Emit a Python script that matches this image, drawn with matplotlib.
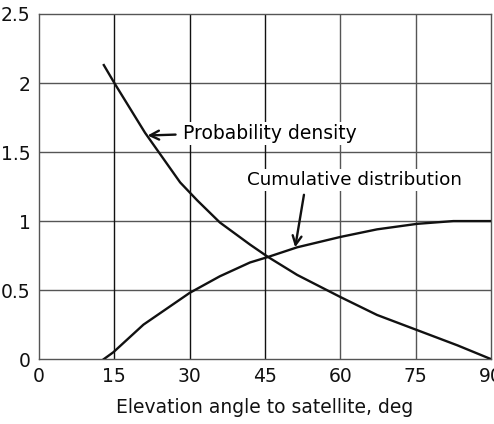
import matplotlib.pyplot as plt
import numpy as np

# elevation angle (deg) and curve values
pdf_deg = [12.9, 15, 21.1, 28.1, 31.5, 36, 42, 45.6, 51.4, 60, 67.3, 75.3, 83.3, 90]
pdf_val = [2.13, 2.0, 1.64, 1.28, 1.15, 0.99, 0.83, 0.74, 0.61, 0.45, 0.32, 0.21, 0.10, 0.0]

cdf_deg = [12.9, 14.8, 20.8, 30, 36, 42, 45.6, 51.4, 60, 67.3, 75.3, 82.5, 90]
cdf_val = [0.0, 0.05, 0.25, 0.48, 0.60, 0.70, 0.74, 0.81, 0.885, 0.94, 0.98, 1.0, 1.0]

xticks = [0, 15, 30, 45, 60, 75, 90]
yticks = [0, 0.5, 1, 1.5, 2, 2.5]
ytick_labels = ["0", "0.5", "1", "1.5", "2", "2.5"]

fig = plt.figure(figsize=(4.94, 4.24), dpi=100)
ax = fig.add_axes([0.079, 0.153, 0.915, 0.814])

# grid: horizontal gray, some verticals darker like the original
for y in yticks[1:-1]:
    ax.axhline(y, color='#555555', lw=1.0, zorder=0)
for x in xticks[1:-1]:
    c = '#111111' if x in (15, 30, 45) else '#555555'
    ax.axvline(x, color=c, lw=1.0, zorder=0)

ax.plot(pdf_deg, pdf_val, color='#111111', lw=1.7, zorder=3)
ax.plot(cdf_deg, cdf_val, color='#111111', lw=1.7, zorder=3)

box = dict(facecolor='white', edgecolor='none', pad=1.5)
ax.annotate("Probability density", xy=(21.6, 1.62), xytext=(28.7, 1.635),
            fontsize=13.5, va='center', ha='left', bbox=box, zorder=4,
            arrowprops=dict(arrowstyle='->', color='#111111', lw=1.7,
                            mutation_scale=16, shrinkA=4, shrinkB=0,
                            relpos=(0, 0.45)))
ax.annotate("Cumulative distribution", xy=(51, 0.81), xytext=(62.8, 1.30),
            fontsize=13.2, va='center', ha='center', bbox=box, zorder=4,
            arrowprops=dict(arrowstyle='->', color='#111111', lw=1.7,
                            mutation_scale=16, shrinkA=3, shrinkB=0,
                            relpos=(0.27, 0)))

ax.set_xlim(0, 90)
ax.set_ylim(0, 2.5)
ax.set_xticks(xticks)
ax.set_yticks(yticks)
ax.set_yticklabels(ytick_labels)
ax.tick_params(length=0, labelsize=13.5, colors='#111111', pad=6)
for s in ax.spines.values():
    s.set_color('#555555')
    s.set_linewidth(1.0)
ax.set_xlabel("Elevation angle to satellite, deg", fontsize=13.5, color='#111111', labelpad=8)

fig.savefig("out.png", dpi=100)
